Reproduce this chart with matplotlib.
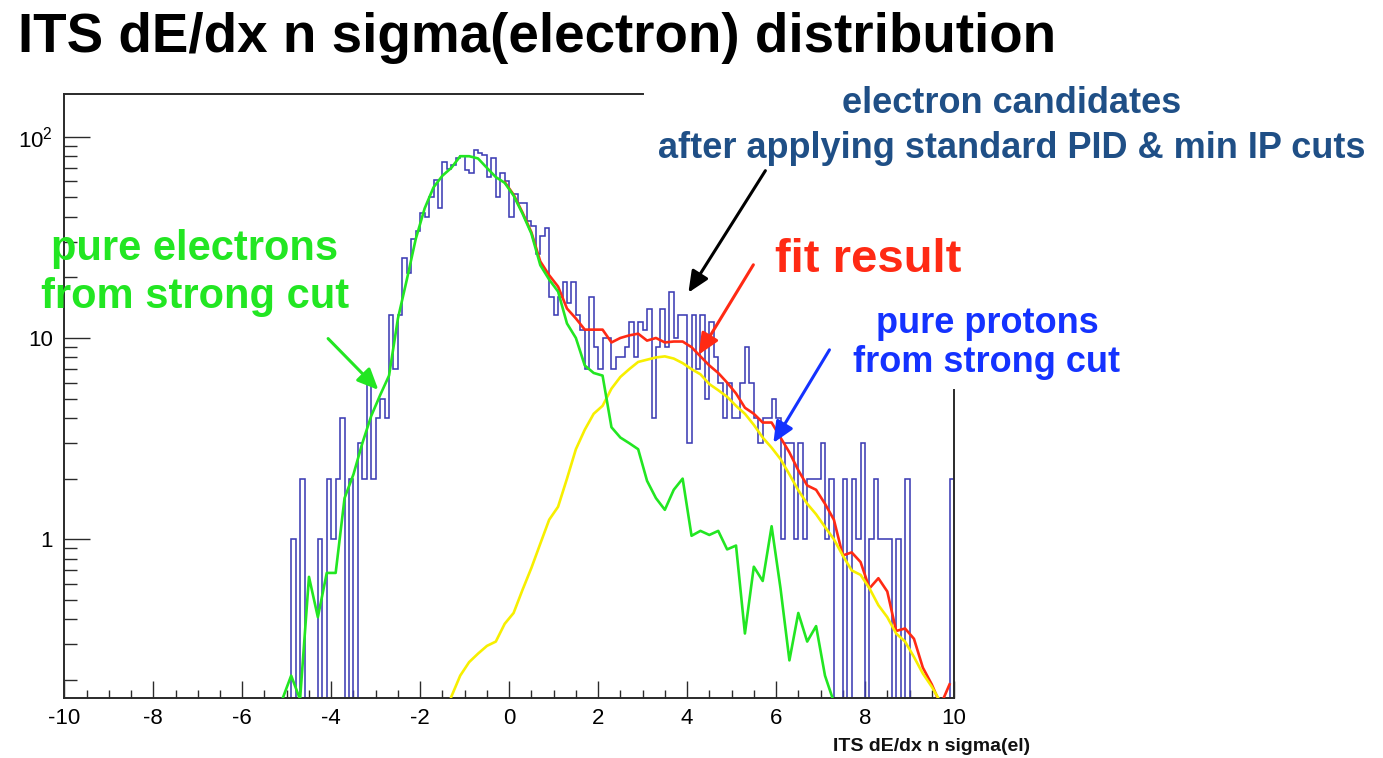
import numpy as np
import matplotlib
matplotlib.use("Agg")
import matplotlib.pyplot as plt
from matplotlib.patches import ArrowStyle
from matplotlib.ticker import MultipleLocator, LogLocator, FuncFormatter, NullFormatter

plt.rcParams['font.family'] = ['Liberation Sans', 'DejaVu Sans']
plt.rcParams['mathtext.fontset'] = 'custom'
plt.rcParams['mathtext.rm'] = 'Liberation Sans'
plt.rcParams['mathtext.it'] = 'Liberation Sans:italic'
plt.rcParams['mathtext.bf'] = 'Liberation Sans:bold'

# ---------------------------------------------------------------- data
# electron candidates, counts per 0.1 bin starting at n sigma = -5.0
HIST_START = -5.0
BIN_WIDTH = 0.1
candidate_counts = [
    0, 1, 0, 2, 0, 0, 0, 1, 0, 2,          # -5.0 .. -4.1
    1, 2, 4, 0, 2, 0, 3, 2, 6, 2,          # -4.0 .. -3.1
    4, 5, 4, 13, 7, 13, 25, 21, 31, 34,    # -3.0 .. -2.1
    42, 40, 50, 61, 44, 75, 69, 72, 78, 80,  # -2.0 .. -1.1
    68, 66, 86, 83, 81, 63, 78, 50, 66, 60,  # -1.0 .. -0.1
    40, 52, 47, 47, 38, 36, 26, 32, 35, 16,  # 0.0 .. 0.9
    13, 16, 19, 15, 19, 13, 11, 7, 16, 9,    # 1.0 .. 1.9
    7, 10, 10, 7, 8, 8, 9, 12, 8, 12,        # 2.0 .. 2.9
    11, 14, 4, 9, 14, 9, 17, 10, 13, 13,     # 3.0 .. 3.9
    3, 13, 7, 13, 5, 12, 8, 6, 4, 6,         # 4.0 .. 4.9
    4, 4, 6, 9, 6, 4, 3, 4, 4, 5,            # 5.0 .. 5.9
    4, 1, 3, 3, 1, 3, 1, 2, 2, 2,            # 6.0 .. 6.9
    3, 1, 2, 0, 0, 2, 0, 2, 1, 3,            # 7.0 .. 7.9
    0, 1, 2, 1, 1, 1, 0, 1, 0, 2,            # 8.0 .. 8.9
    0, 0, 0, 0, 0, 0, 0, 0, 0, 2,            # 9.0 .. 9.9
]

# template curves sampled at the centres of 0.2-wide bins
CURVE_STEP = 0.2
electron_start = -5.1
electron_template = [
    0.16, 0.21, 0.16, 0.65, 0.41, 0.68, 0.68, 1.6, 2.1, 3.0,
    4.1, 5.2, 6.5, 12.5, 19.5, 31, 44, 56, 64, 70,
    80, 80, 78, 70, 63, 59, 51, 41.5, 33, 23,
    19.5, 17, 11.8, 10, 7.3, 6.7, 6.5, 3.6, 3.2, 3.0,
    2.8, 1.95, 1.6, 1.4, 1.76, 2.0, 1.04, 1.10, 1.05, 1.10,
    0.89, 0.93, 0.34, 0.73, 0.62, 1.16, 0.57, 0.25, 0.43, 0.31,
    0.37, 0.21, 0.155,
]

proton_start = -1.5
proton_template = [
    0.12, 0.165, 0.21, 0.245, 0.27, 0.295, 0.31, 0.38, 0.43, 0.56,
    0.72, 0.95, 1.25, 1.45, 2.0, 2.8, 3.5, 4.2, 4.6, 5.6,
    6.4, 7.0, 7.6, 7.8, 8.0, 8.1, 7.9, 7.5, 7.0, 6.6,
    5.9, 5.5, 5.1, 4.6, 4.2, 3.7, 3.2, 2.85, 2.5, 2.1,
    1.75, 1.5, 1.33, 1.15, 1.0, 0.83, 0.70, 0.665, 0.57, 0.47,
    0.41, 0.34, 0.31, 0.26, 0.215, 0.185, 0.155, 0.13,
]

fit_start = -0.1
fit_result = [
    59.5, 51.5, 42, 33.5, 24, 20.5, 18, 14, 12.5, 11,
    11, 11, 9.5, 10, 10.3, 10.5, 9.7, 10, 9.5, 9.6,
    9.6, 9.0, 8.1, 7.3, 6.7, 6.0, 5.3, 4.5, 4.2, 3.8,
    3.8, 3.2, 2.7, 2.2, 1.85, 1.76, 1.5, 1.25, 0.83, 0.86,
    0.77, 0.57, 0.64, 0.55, 0.35, 0.36, 0.32, 0.23, 0.19, 0.15,
    0.19,
]

x_ticks = [-10, -8, -6, -4, -2, 0, 2, 4, 6, 8, 10]
y_tick_labels = {1: '1', 10: '10', 100: r'$\mathregular{10^{2}}$'}

# ---------------------------------------------------------------- layout
W, H = 1383, 758
fig = plt.figure(figsize=(W / 100, H / 100), dpi=100)
ax = fig.add_axes([64.3 / W, 1 - 698.3 / H, (954 - 64.3) / W, (698.3 - 94) / H])

Y_MIN, Y_MAX = 0.162, 163.0
ax.set_xlim(-10, 10)
ax.set_yscale('log')
ax.set_ylim(Y_MIN, Y_MAX)

HIST_BLUE = '#3d3db5'
GREEN = '#22e622'
RED = '#ff2a14'
YELLOW = '#f7ef00'
BLUE = '#1432ff'
NAVY = '#1f4f86'

# histogram outline (empty bins drop below the frame)
counts = np.asarray(candidate_counts, dtype=float)
edges = HIST_START + BIN_WIDTH * np.arange(len(counts) + 1)
ax.stairs(np.where(counts > 0, counts, 1e-3), edges, baseline=None,
          color=HIST_BLUE, lw=1.15, zorder=2)


def centres(start, n):
    return start + CURVE_STEP * np.arange(n)


ax.plot(centres(fit_start, len(fit_result)), fit_result,
        color=RED, lw=1.9, zorder=3)
ax.plot(centres(proton_start, len(proton_template)), proton_template,
        color=YELLOW, lw=1.9, zorder=4)
ax.plot(centres(electron_start, len(electron_template)), electron_template,
        color=GREEN, lw=1.9, zorder=5)

# ---------------------------------------------------------------- axes styling
frame_col = '#2a2a2a'
for side in ['left', 'bottom', 'top', 'right']:
    ax.spines[side].set_color(frame_col)
    ax.spines[side].set_linewidth(1.4)
ax.spines['top'].set_bounds(-10, 3.02)
ax.spines['right'].set_bounds(Y_MIN, 5.5)

ax.xaxis.set_minor_locator(MultipleLocator(0.5))
ax.set_xticks(x_ticks)
ax.set_xticklabels([str(t) for t in x_ticks])
ax.yaxis.set_major_locator(LogLocator(base=10, numticks=10))
ax.yaxis.set_minor_locator(LogLocator(base=10, subs=np.arange(2, 10), numticks=20))
ax.yaxis.set_major_formatter(FuncFormatter(lambda v, p: y_tick_labels.get(round(v, 6), '')))
ax.yaxis.set_minor_formatter(NullFormatter())

ax.tick_params(axis='both', which='both', direction='in', color=frame_col,
               width=1.0, top=False, right=False, labelsize=16)
ax.tick_params(axis='x', which='major', length=12.5, pad=7)
ax.tick_params(axis='x', which='minor', length=6)
ax.tick_params(axis='y', which='major', length=19, pad=8)
ax.tick_params(axis='y', which='minor', length=9.5)

ax.text(1.0 + 76 / (954 - 64.3), -53 / (698.3 - 94), 'ITS dE/dx n sigma(el)',
        transform=ax.transAxes, ha='right', va='baseline',
        fontsize=14, fontweight='bold', color='#111111')

# ---------------------------------------------------------------- annotations
def ftext(x, y, s, **kw):
    fig.text(x / W, 1 - y / H, s, **kw)


ftext(18, 52, 'ITS dE/dx n sigma(electron) distribution',
      fontsize=39.4, fontweight='bold', color='black', ha='left', va='baseline')

ftext(1012, 113, 'electron candidates', fontsize=26, fontweight='bold',
      color=NAVY, ha='center', va='baseline')
ftext(1012, 158, 'after applying standard PID & min IP cuts', fontsize=26,
      fontweight='bold', color=NAVY, ha='center', va='baseline')

ftext(868, 272, 'fit result', fontsize=34, fontweight='bold', color=RED,
      ha='center', va='baseline')

ftext(195, 260, 'pure electrons', fontsize=30, fontweight='bold', color=GREEN,
      ha='center', va='baseline')
ftext(195, 308, 'from strong cut', fontsize=30, fontweight='bold', color=GREEN,
      ha='center', va='baseline')

ftext(987, 333, 'pure protons', fontsize=26, fontweight='bold', color=BLUE,
      ha='center', va='baseline')
ftext(987, 372, 'from strong cut', fontsize=26, fontweight='bold', color=BLUE,
      ha='center', va='baseline')

head = ArrowStyle('-|>', head_length=0.85, head_width=0.38)


def pointer(tip, tail, colour):
    ax.annotate('', xy=tip, xytext=tail, xycoords='data', textcoords='data',
                arrowprops=dict(arrowstyle=head, color=colour, lw=2.2,
                                mutation_scale=15, shrinkA=0, shrinkB=0),
                annotation_clip=False, zorder=6)


pointer((4.03, 16.8), (5.76, 67.8), 'black')
pointer((4.26, 8.26), (5.49, 23.1), RED)
pointer((5.94, 3.01), (7.20, 8.73), BLUE)
pointer((-2.94, 5.52), (-4.07, 9.93), GREEN)

fig.savefig('out.png', dpi=100)
